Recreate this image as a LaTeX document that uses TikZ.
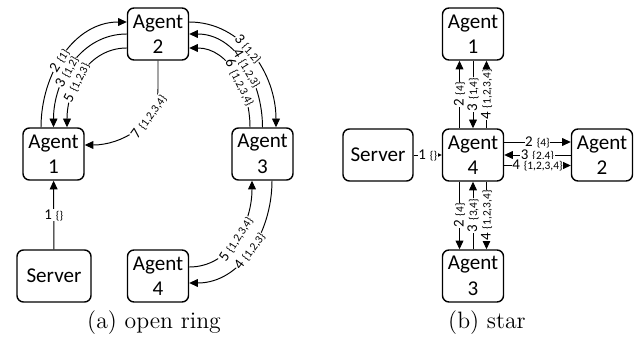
\documentclass[tikz,border=0pt]{standalone}
\usepackage{fontspec}
\newfontfamily\agentfont{Carlito}
\usetikzlibrary{arrows.meta}
% message number in normal size, the set a bit smaller
\newcommand{\msg}[2]{{\fontsize{8.5}{9}\selectfont#1}~{\fontsize{6.5}{7}\selectfont\{#2\}}}
\tikzset{
	box/.style={draw,line width=0.8pt,rounded corners=0.13cm,minimum height=1.04cm,
		minimum width=1.22cm,inner sep=0pt,align=center,
		font=\agentfont\fontsize{12}{14.5}\selectfont},
	lab/.style={fill=white,inner sep=0.3pt,font=\agentfont},
	link/.style={line width=0.55pt,-{Triangle[length=5pt,width=4.5pt]}},
	linkback/.style={line width=0.55pt,{Triangle[length=5pt,width=4.5pt]}-},
	captext/.style={font=\fontsize{13.5}{16}\selectfont}
}
\begin{document}
\begin{tikzpicture}[x=0.02cm,y=0.02cm]
	\useasboundingbox (0,0) rectangle (643,-341);
	
	% (a) open ring
	\path (53.5,-154) node[box] (r1) {Agent\\1}
	(158,-34) node[box] (r2) {Agent\\2}
	(262.5,-154) node[box] (r3) {Agent\\3}
	(158,-276) node[box] (r4) {Agent\\4}
	(54,-276) node[box,minimum width=1.48cm] (rs) {Server};
	\draw[link] (rs) -- node[lab] {\msg{1}{}} (r1);
	\draw[link] ([xshift=-0.25cm]r1.north) to[out=90,in=180] node[lab,sloped,pos=0.45] {\msg{2}{1}} ([yshift=0.24cm]r2.west);
	\draw[link] (r2.west) to[out=180,in=90] node[lab,sloped,pos=0.58] {\msg{3}{1,2}} (r1.north);
	\draw[link] ([yshift=-0.28cm]r2.west) to[out=180,in=90] node[lab,sloped,pos=0.6] {\msg{5}{1,2,3}} ([xshift=0.27cm]r1.north);
	\draw[link] (r2.south) -- ++(0,-28) to[out=-90,in=0] node[lab,sloped,pos=0.3] {\msg{7}{1,2,3,4}} ([yshift=0.18cm]r1.east);
	\draw[link] ([yshift=0.24cm]r2.east) to[out=0,in=90] node[lab,sloped,pos=0.45] {\msg{3}{1,2}} ([xshift=0.27cm]r3.north);
	\draw[link] (r3.north) to[out=90,in=0] node[lab,sloped,pos=0.45] {\msg{4}{1,2,3}} (r2.east);
	\draw[link] ([xshift=-0.25cm]r3.north) to[out=90,in=0] node[lab,sloped,pos=0.4] {\msg{6}{1,2,3,4}} ([yshift=-0.28cm]r2.east);
	\draw[link] ([yshift=0.18cm]r4.east) to[out=0,in=-90] node[lab,sloped] {\msg{5}{1,2,3,4}} ([xshift=-0.21cm]r3.south);
	\draw[link] ([xshift=0.19cm]r3.south) to[out=-90,in=0] node[lab,sloped] {\msg{4}{1,2,3}} ([yshift=-0.14cm]r4.east);
	\node[captext] (capa) at (154,-323) {(a) open ring};
	
	% (b) star
	\path (473,-34) node[box] (s1) {Agent\\1}
	(473,-155) node[box] (s4) {Agent\\4}
	(602,-155) node[box] (s2) {Agent\\2}
	(473,-276) node[box] (s3) {Agent\\3}
	(378,-155) node[box,minimum width=1.4cm] (ss) {Server};
	\draw[link] (ss) -- node[lab] {\msg{1}{}} (s4);
	\foreach \dx/\st/\n/\set in {-0.27/link/2/4,0/linkback/3/{1,4},0.27/link/4/{1,2,3,4}}% up to Agent 1
	\draw[\st] ([xshift=\dx cm]s4.north) -- node[lab,rotate=90] {\msg{\n}{\set}} ([xshift=\dx cm]s1.south);
	\foreach \dx/\st/\n/\set in {-0.27/link/2/4,0/linkback/3/{3,4},0.27/link/4/{1,2,3,4}}% down to Agent 3
	\draw[\st] ([xshift=\dx cm]s4.south) -- node[lab,rotate=90] {\msg{\n}{\set}} ([xshift=\dx cm]s3.north);
	\foreach \dy/\st/\n/\set in {0.26/link/2/4,0/linkback/3/{2,4},-0.21/link/4/{1,2,3,4}}% right to Agent 2
	\draw[\st] ([yshift=\dy cm]s4.east) -- node[lab] {\msg{\n}{\set}} ([yshift=\dy cm]s2.west);
	\node[captext] (capb) at (487,-323) {(b) star};
\end{tikzpicture}
\end{document}
